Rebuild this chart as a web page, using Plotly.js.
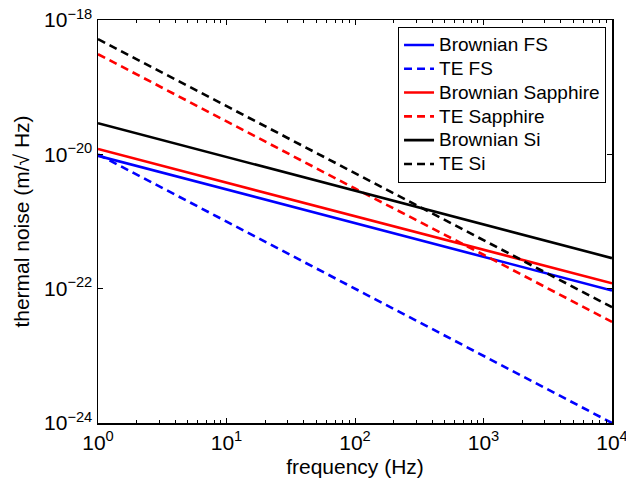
<!DOCTYPE html>
<html>
<head>
<meta charset="utf-8">
<script src="https://cdn.plot.ly/plotly-3.0.1.min.js"></script>
<style>html,body{margin:0;padding:0;background:#fff;}#chart{width:626px;height:490px;}</style>
</head>
<body>
<div id="chart"></div>
<script>
// frequency (Hz)
const freq = [1, 10, 100, 1000, 10000];
// thermal noise values (m/sqrt(Hz))
const brownianFS = [9.5e-21, 3.0e-21, 9.5e-22, 3.0e-22, 9.4e-23];
const teFS = [1.0e-20, 1.0e-21, 1.0e-22, 1.0e-23, 1.0e-24];
const brownianSapphire = [1.2e-20, 3.8e-21, 1.2e-21, 3.8e-22, 1.2e-22];
const teSapphire = [3.1e-19, 3.1e-20, 3.1e-21, 3.2e-22, 3.2e-23];
const brownianSi = [2.9e-20, 9.1e-21, 2.9e-21, 9.0e-22, 2.85e-22];
const teSi = [5.2e-19, 5.2e-20, 5.3e-21, 5.3e-22, 5.3e-23];

const seriesNames = ["Brownian FS", "TE FS", "Brownian Sapphire", "TE Sapphire", "Brownian Si", "TE Si"];

const xTickVals = [1, 10, 100, 1000, 10000];
const xTickText = ["10<sup>0</sup>", "10<sup>1</sup>", "10<sup>2</sup>", "10<sup>3</sup>", "10<sup>4</sup>"];
const yTickVals = [1e-24, 1e-22, 1e-20, 1e-18];
const yTickText = ["10<sup>\u221224</sup>", "10<sup>\u221222</sup>", "10<sup>\u221220</sup>", "10<sup>\u221218</sup>"];

const minorX = [];
for (let d = 0; d < 4; d++) for (let m = 2; m <= 9; m++) minorX.push(m * Math.pow(10, d));

const dashPat = "8px,5px";
const legendName = (s) => '<span style="font-size:19px">' + s + '</span>';
const mk = (y, name, color, dash) => ({
  x: freq, y: y, name: legendName(name), type: "scatter", mode: "lines",
  line: {color: color, width: 2.6, dash: dash}
});

const data = [
  mk(brownianFS, seriesNames[0], "#0000ff", "solid"),
  mk(teFS, seriesNames[1], "#0000ff", dashPat),
  mk(brownianSapphire, seriesNames[2], "#ff0000", "solid"),
  mk(teSapphire, seriesNames[3], "#ff0000", dashPat),
  mk(brownianSi, seriesNames[4], "#000000", "solid"),
  mk(teSi, seriesNames[5], "#000000", dashPat)
];

const font = {family: "Liberation Sans, Arial, sans-serif", color: "#000", size: 21};

const layout = {
  width: 626, height: 490,
  margin: {l: 98, r: 14, t: 20, b: 67},
  paper_bgcolor: "#fff", plot_bgcolor: "#fff",
  font: font,
  showlegend: true,
  legend: {
    x: 0.988, y: 0.983, xanchor: "right", yanchor: "top",
    bgcolor: "#fff", bordercolor: "#000", borderwidth: 1.2,
    font: {family: font.family, size: 16, color: "#000"},
    tracegroupgap: 0
  },
  xaxis: {
    type: "log", range: [0, 4],
    tickmode: "array", tickvals: xTickVals, ticktext: xTickText,
    ticks: "inside", ticklen: 5, tickwidth: 1, tickcolor: "#000",
    minor: {tickmode: "array", tickvals: minorX, ticks: "inside", ticklen: 3, tickcolor: "#000", showgrid: false},
    showline: true, linecolor: "#000", linewidth: 1.5, mirror: "ticks",
    showgrid: false, zeroline: false,
    ticklabeloverflow: "allow",
    tickfont: {size: 21},
    title: {text: "frequency (Hz)", font: {size: 21}, standoff: 6}
  },
  yaxis: {
    type: "log", range: [-24, -18],
    tickmode: "array", tickvals: yTickVals, ticktext: yTickText,
    ticks: "inside", ticklen: 5, tickwidth: 1, tickcolor: "#000",
    showline: true, linecolor: "#000", linewidth: 1.5, mirror: "ticks",
    showgrid: false, zeroline: false,
    ticklabeloverflow: "allow",
    tickfont: {size: 21},
    title: {text: "thermal noise (m/\u221A Hz)", font: {size: 21}, standoff: 8}
  }
};

Plotly.newPlot("chart", data, layout, {displayModeBar: false, staticPlot: true});
</script>
</body>
</html>
